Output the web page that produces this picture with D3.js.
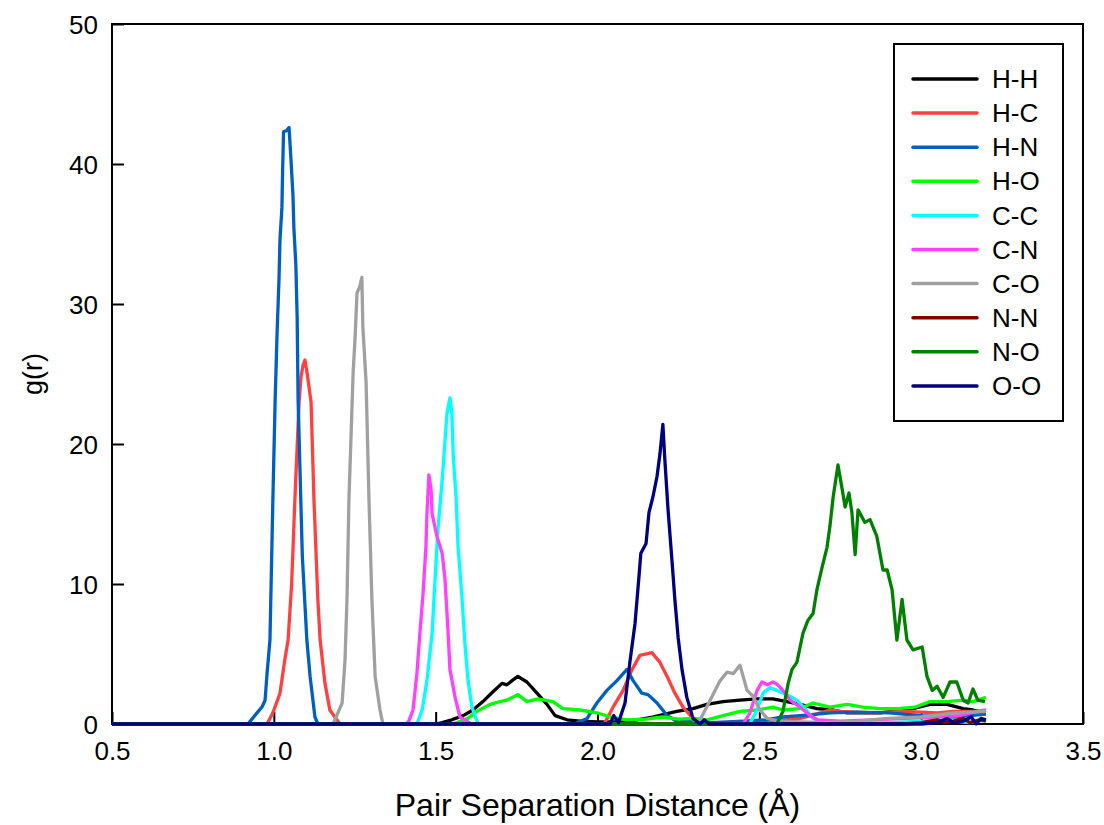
<!DOCTYPE html>
<html>
<head>
<meta charset="utf-8">
<script src="https://cdnjs.cloudflare.com/ajax/libs/d3/7.8.5/d3.min.js"></script>
<style>
  body { margin: 0; background: #fff; }
  svg { display: block; font-family: "Liberation Sans", Arial, sans-serif; }
</style>
</head>
<body>
<svg id="chart" width="1104" height="825"></svg>
<script>
'use strict';

// pair labels and colours, legend order
var pairs  = ["H-H", "H-C", "H-N", "H-O", "C-C", "C-N", "C-O", "N-N", "N-O", "O-O"];
var colors = ["#000000", "#ff4040", "#0060c0", "#00ff00", "#00ffff", "#ff40ff", "#a0a0a0", "#800000", "#008000", "#000080"];

var xTicks = [0.5, 1.0, 1.5, 2.0, 2.5, 3.0, 3.5];
var yTicks = [0, 10, 20, 30, 40, 50];

// g(r), [r (Å), g]
var hh = [[0.5,0],[1.50,0],[1.52,0.1],[1.55,0.3],[1.585,0.6],[1.615,1.0],[1.646,1.6],[1.677,2.3],[1.705,2.9],[1.72,2.8],[1.736,3.1],[1.754,3.4],[1.782,3.0],[1.813,2.2],[1.844,1.4],[1.869,0.6],[1.906,0.3],[1.946,0.2],[2.0,0.15],[2.09,0.15],[2.17,0.5],[2.245,0.9],[2.295,1.1],[2.338,1.4],[2.388,1.6],[2.44,1.7],[2.493,1.8],[2.542,1.8],[2.585,1.6],[2.626,1.4],[2.678,1.1],[2.728,1.0],[2.771,0.8],[2.873,0.8],[2.975,1.1],[3.027,1.4],[3.08,1.4],[3.13,1.1],[3.16,1.0],[3.2,0.8]];
var hc = [[0.5,0],[0.979,0],[0.997,0.8],[1.019,2.2],[1.034,4.6],[1.044,6.0],[1.055,10],[1.065,16],[1.078,23],[1.084,24.8],[1.090,25.6],[1.096,26.0],[1.102,25.2],[1.115,23],[1.124,16],[1.136,8.9],[1.143,6.0],[1.158,2.9],[1.173,1.0],[1.204,0],[2.02,0],[2.03,0.4],[2.048,1.2],[2.079,2.4],[2.107,3.9],[2.131,4.9],[2.168,5.1],[2.193,4.4],[2.215,3.4],[2.239,2.2],[2.264,1.2],[2.295,0.4],[2.33,0.1],[2.5,0.1],[2.58,0.3],[2.626,0.4],[2.66,0.6],[2.718,1.0],[2.75,0.9],[2.85,0.8],[2.95,0.9],[3.05,0.8],[3.1,0.9],[3.2,0.9]];
var hn = [[0.5,0],[0.92,0],[0.948,0.8],[0.963,1.2],[0.973,1.7],[0.979,3.6],[0.988,6.0],[0.997,16],[1.004,23.1],[1.010,27.9],[1.016,31.8],[1.019,34.6],[1.025,36.9],[1.027,39.4],[1.030,42.3],[1.040,42.4],[1.047,42.6],[1.053,40.3],[1.059,37.8],[1.062,35.4],[1.068,32.8],[1.072,29.1],[1.075,23.1],[1.088,12],[1.102,6.0],[1.112,3.4],[1.127,0.5],[1.136,0],[1.93,0],[1.937,0.1],[1.968,0.4],[1.998,1.5],[2.029,2.4],[2.06,3.1],[2.091,3.9],[2.11,3.1],[2.137,2.2],[2.156,2.1],[2.184,1.5],[2.215,0.6],[2.245,0.2],[2.35,0.1],[2.45,0.2],[2.52,0.3],[2.573,0.5],[2.626,0.6],[2.72,0.8],[2.8,0.85],[2.9,0.8],[3.0,0.6],[3.1,0.5],[3.2,0.7]];
var ho = [[0.5,0],[1.55,0],[1.566,0.1],[1.60,0.4],[1.627,0.9],[1.668,1.4],[1.699,1.6],[1.72,1.7],[1.754,2.1],[1.782,1.6],[1.816,1.8],[1.862,1.6],[1.893,1.1],[1.946,1.0],[1.998,0.8],[2.039,0.5],[2.09,0.3],[2.15,0.35],[2.2,0.5],[2.25,0.35],[2.295,0.4],[2.338,0.3],[2.388,0.6],[2.44,0.9],[2.493,1.0],[2.542,1.2],[2.573,1.0],[2.626,1.1],[2.666,1.5],[2.718,1.2],[2.771,1.4],[2.82,1.2],[2.873,1.1],[2.93,1.1],[2.98,1.2],[3.027,1.6],[3.08,1.6],[3.13,1.7],[3.16,1.6],[3.2,1.9]];
var cc = [[0.5,0],[1.442,0],[1.458,1.0],[1.473,3.1],[1.489,6.5],[1.498,10.3],[1.507,13.9],[1.520,17.4],[1.529,20.3],[1.535,22.2],[1.544,23.3],[1.550,22.2],[1.554,19.3],[1.563,16.2],[1.569,12.7],[1.581,9.1],[1.591,5.5],[1.600,3.1],[1.612,1.2],[1.631,0],[2.47,0],[2.493,1.0],[2.511,2.2],[2.533,2.6],[2.554,2.4],[2.585,2.1],[2.616,1.7],[2.641,1.1],[2.666,0.4],[2.7,0],[2.9,0.1],[3.0,0.2],[3.05,0.3],[3.1,0.2],[3.15,0.1],[3.2,0.3]];
var cn = [[0.5,0],[1.405,0],[1.415,0.1],[1.43,1.0],[1.442,3.6],[1.452,6.7],[1.461,9.3],[1.470,12.7],[1.473,15.0],[1.479,17.8],[1.486,16.7],[1.489,15.0],[1.504,13.4],[1.520,12.2],[1.529,10.3],[1.538,6.7],[1.544,3.9],[1.56,1.9],[1.575,0.5],[1.597,0.2],[1.61,0],[2.45,0],[2.471,0.8],[2.493,2.4],[2.508,3.0],[2.525,2.8],[2.542,3.0],[2.557,2.8],[2.573,2.4],[2.595,1.7],[2.626,1.2],[2.657,0.6],[2.68,0.3],[2.75,0.2],[2.85,0.3],[2.95,0.4],[3.05,0.5],[3.12,0.6],[3.17,0.9],[3.2,1.0]];
var co = [[0.5,0],[1.183,0],[1.211,1.5],[1.220,4.6],[1.226,8.9],[1.232,16],[1.245,25.1],[1.251,27.6],[1.257,30.8],[1.265,31.2],[1.272,31.9],[1.275,28.4],[1.285,24.4],[1.294,16],[1.303,8.9],[1.313,3.4],[1.328,1.0],[1.337,0],[2.29,0],[2.317,0.3],[2.348,1.7],[2.379,3.1],[2.40,3.7],[2.42,3.6],[2.44,4.2],[2.45,3.4],[2.462,2.4],[2.48,2.0],[2.502,1.0],[2.524,0.4],[2.56,0.2],[2.7,0.1],[2.8,0.2],[2.9,0.4],[3.0,0.5],[3.1,0.8],[3.2,0.9]];
var nn = [[0.5,0],[2.95,0],[3.0,0.1],[3.05,0.3],[3.07,0.1],[3.1,0.2],[3.13,0.4],[3.15,0.1],[3.18,0.3],[3.2,0.2]];
var no = [[0.5,0],[2.554,0],[2.573,0.9],[2.589,2.9],[2.601,3.9],[2.616,4.4],[2.635,6.5],[2.65,7.4],[2.666,7.9],[2.678,9.6],[2.694,11.2],[2.709,12.6],[2.718,14.1],[2.728,16.2],[2.743,18.5],[2.755,16.9],[2.765,15.5],[2.777,16.5],[2.786,15.1],[2.796,12.1],[2.805,15.3],[2.826,14.4],[2.842,14.6],[2.863,13.4],[2.882,11.0],[2.895,11.0],[2.91,9.6],[2.925,6.0],[2.941,8.9],[2.956,6.0],[2.975,5.3],[3.003,5.5],[3.018,3.4],[3.034,2.4],[3.049,2.7],[3.068,1.9],[3.089,3.0],[3.11,3.0],[3.13,1.7],[3.145,1.5],[3.16,2.5],[3.175,1.7],[3.197,1.6]];
var oo = [[0.5,0],[2.039,0],[2.05,0.6],[2.065,0.1],[2.085,1.5],[2.10,4.4],[2.116,7.2],[2.128,10.5],[2.134,12.2],[2.15,12.9],[2.159,15.1],[2.171,16.2],[2.184,17.7],[2.193,19.3],[2.202,21.4],[2.208,18.9],[2.218,15.3],[2.23,11.7],[2.239,8.9],[2.249,6.2],[2.261,3.9],[2.276,1.9],[2.295,0.4],[2.317,0],[2.33,0.3],[2.345,0],[3.0,0],[3.05,0.1],[3.08,0.4],[3.1,0.1],[3.13,0.2],[3.155,0.5],[3.17,0],[3.185,0.4],[3.2,0.3]];

var series = [hh, hc, hn, ho, cc, cn, co, nn, no, oo];

(function(){
  var svg = d3.select("#chart");
  var plotL = 112, plotR = 1083, plotT = 24, plotB = 724;

  var x = d3.scaleLinear().domain([0.5, 3.5]).range([plotL, plotR]);
  var y = d3.scaleLinear().domain([0, 50]).range([plotB, plotT]);

  svg.append("rect").attr("width", 1104).attr("height", 825).attr("fill", "#fff");

  // frame and ticks first, the curves cover them
  svg.append("rect")
      .attr("x", plotL).attr("y", plotT)
      .attr("width", plotR - plotL).attr("height", plotB - plotT)
      .attr("fill", "none").attr("stroke", "#000").attr("stroke-width", 2);

  var xAxis = d3.axisBottom(x).tickValues(xTicks).tickFormat(d3.format(".1f"))
      .tickSizeInner(-12).tickSizeOuter(0).tickPadding(18);
  var yAxis = d3.axisLeft(y).tickValues(yTicks).tickFormat(d3.format("d"))
      .tickSizeInner(-12).tickSizeOuter(0).tickPadding(14);

  var gx = svg.append("g").attr("transform", "translate(0," + plotB + ")").call(xAxis);
  var gy = svg.append("g").attr("transform", "translate(" + plotL + ",0)").call(yAxis);

  [gx, gy].forEach(function(g){
    g.select(".domain").remove();
    g.selectAll(".tick line").attr("stroke", "#000").attr("stroke-width", 2);
    g.selectAll(".tick text").attr("fill", "#000").style("font-size", "26px")
        .style("font-family", "'Liberation Sans', Arial, sans-serif");
  });
  gy.selectAll(".tick text").attr("dy", "0.35em");

  // curves, O-O drawn last so it sits on the baseline
  var line = d3.line().x(function(d){ return x(d[0]); }).y(function(d){ return y(d[1]); });

  svg.append("g").selectAll("path")
      .data(series)
      .enter().append("path")
      .attr("d", line)
      .attr("fill", "none")
      .attr("stroke", function(d, i){ return colors[i]; })
      .attr("stroke-width", 3.3)
      .attr("stroke-linejoin", "round");

  // axis titles
  svg.append("text")
      .attr("x", (plotL + plotR) / 2).attr("y", 816)
      .attr("text-anchor", "middle")
      .style("font-size", "32px")
      .text("Pair Separation Distance (Å)");

  svg.append("text")
      .attr("transform", "translate(42," + ((plotT + plotB) / 2) + ") rotate(-90)")
      .attr("text-anchor", "middle")
      .style("font-size", "27px")
      .text("g(r)");

  // legend
  var legend = svg.append("g");
  legend.append("rect")
      .attr("x", 894).attr("y", 44).attr("width", 169).attr("height", 377)
      .attr("fill", "#fff").attr("stroke", "#000").attr("stroke-width", 2);

  var rows = legend.selectAll("g.row")
      .data(pairs)
      .enter().append("g")
      .attr("class", "row")
      .attr("transform", function(d, i){ return "translate(0," + (79 + i * 34.1) + ")"; });

  rows.append("line")
      .attr("x1", 913).attr("x2", 977)
      .attr("stroke", function(d, i){ return colors[i]; })
      .attr("stroke-width", 3.5)
      .attr("stroke-linecap", "round");

  rows.append("text")
      .attr("x", 992).attr("dy", "0.35em")
      .style("font-size", "26px")
      .text(function(d){ return d; });
})();
</script>
</body>
</html>
